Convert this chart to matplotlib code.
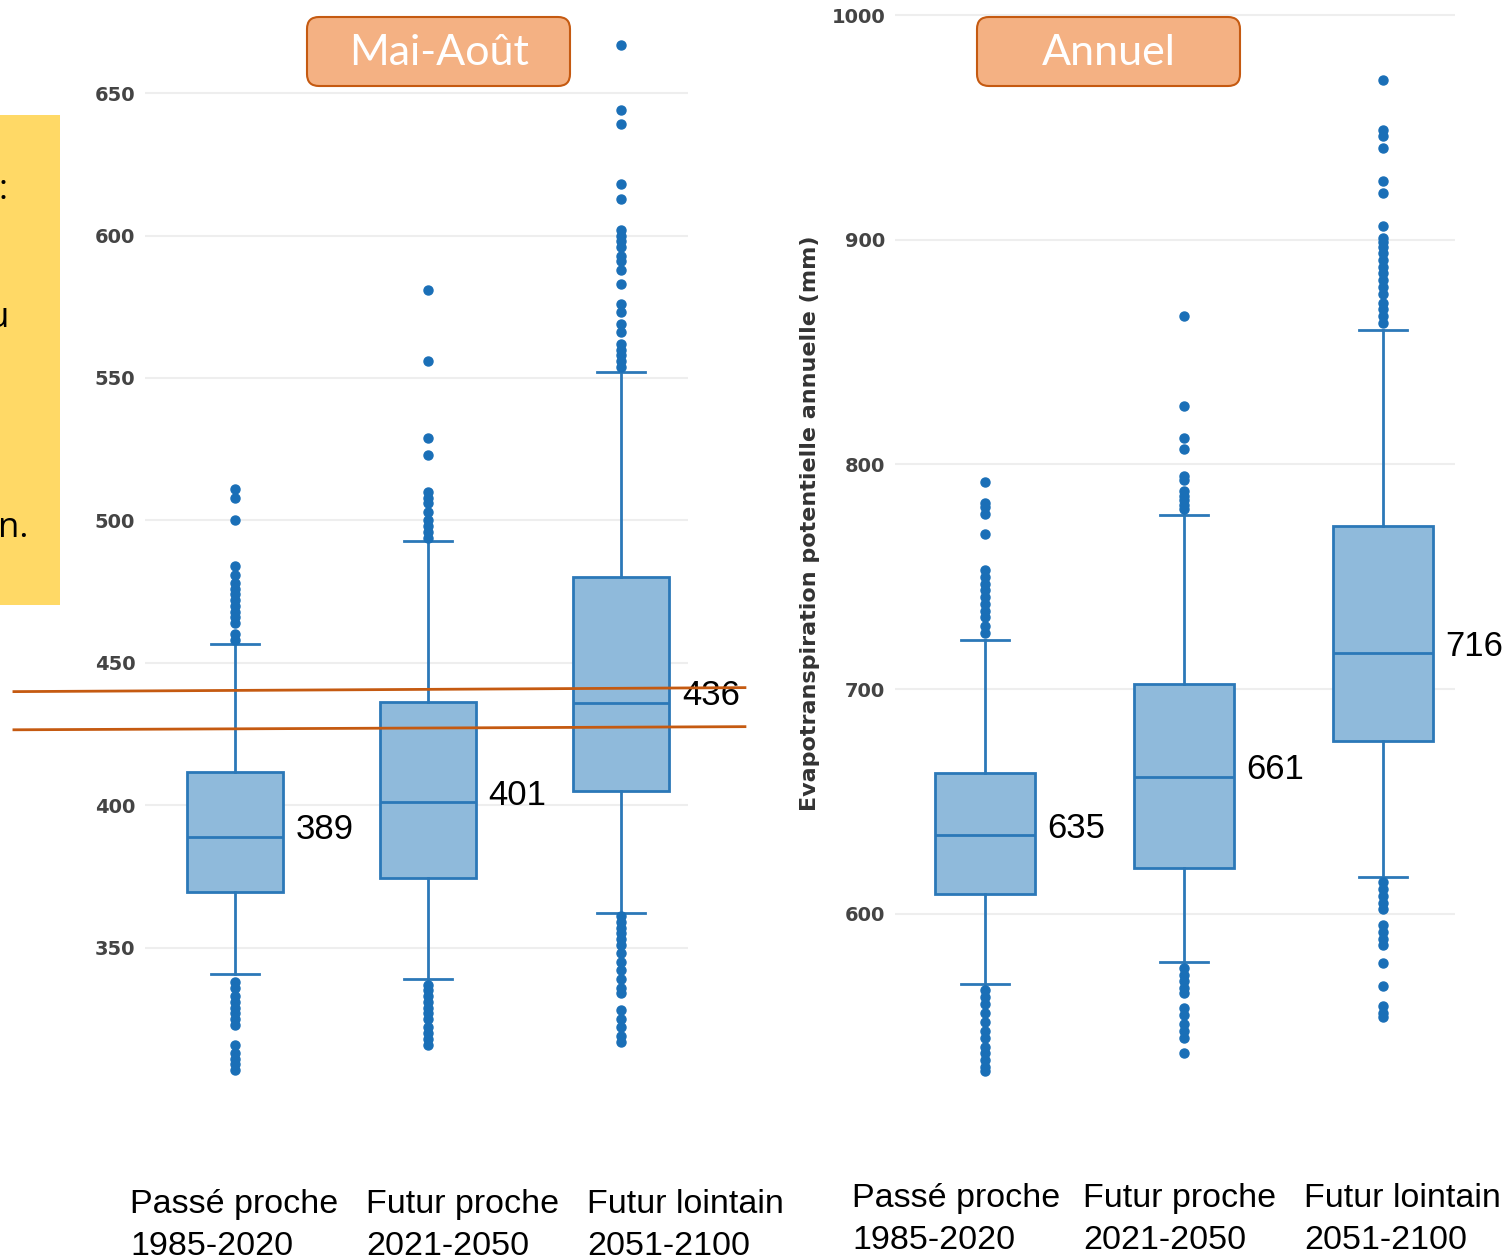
import matplotlib
matplotlib.use("Agg")
import matplotlib.pyplot as plt
from matplotlib.patches import FancyBboxPatch, Rectangle
from matplotlib.transforms import IdentityTransform

# --- data ---
periods = ["Passé proche\n1985-2020", "Futur proche\n2021-2050", "Futur lointain\n2051-2100"]

# Mai-Août
ma_med = [389, 401, 436]
ma_q1 = [369.6, 374.3, 405.1]
ma_q3 = [411.8, 436.1, 480.0]
ma_whislo = [340.8, 338.9, 362.2]
ma_whishi = [456.7, 492.9, 552.0]
ma_fliers = [
    [511, 508, 500, 484, 481, 478, 476, 474, 472, 470, 468, 466, 464, 460, 458,
     338, 336, 333, 331, 329, 327, 325, 323, 316, 313, 311, 309, 307],
    [581, 556, 529, 523, 510, 508, 506, 503, 500, 498, 496, 494,
     337, 335, 333, 331, 329, 327, 325, 322, 320, 318, 316],
    [667, 644, 639, 618, 613, 602, 600, 598, 596, 593, 591, 588, 583, 576, 573,
     569, 566, 562, 560, 558, 556, 554,
     361, 359, 357, 355, 353, 351, 348, 345, 342, 339, 336, 334, 328, 325, 322, 319, 317],
]

# Annuel
an_med = [635, 661, 716]
an_q1 = [608.9, 620.5, 677.0]
an_q3 = [662.7, 702.3, 772.6]
an_whislo = [568.9, 578.6, 616.5]
an_whishi = [721.9, 777.5, 859.8]
an_fliers = [
    [792, 783, 781, 778, 769, 753, 750, 747, 744, 741, 738, 735, 732, 728, 725,
     566, 563, 560, 556, 552, 548, 545, 541, 538, 535, 532, 530],
    [866, 826, 812, 807, 795, 793, 788, 786, 784, 782, 780,
     576, 573, 570, 567, 565, 558, 555, 551, 548, 545, 538],
    [971, 949, 946, 941, 926, 921, 906, 901, 899, 897, 894, 891, 888, 885, 882,
     879, 876, 872, 869, 866, 863,
     614, 611, 608, 605, 602, 595, 592, 589, 586, 578, 568, 559, 556, 554],
]

# two reference levels drawn across the Mai-Août panel
ref_x = [-1.145, 2.642]
ref_levels = [[439.9, 441.3], [426.5, 427.6]]

W, H = 1506, 1259
fig = plt.figure(figsize=(W / 100, H / 100), dpi=100)
fig.patch.set_facecolor("white")

BLUE = "#2B78B8"
FILL = "#8FBADB"
ORANGE = "#C55A11"


def px(x, y):
    # pixel (from top-left) -> figure fraction
    return x / W, 1 - y / H


def draw_panel(rect, med, q1, q3, lo, hi, fliers, ylim, yticks, xlim):
    ax = fig.add_axes(rect)
    stats = []
    for i in range(3):
        stats.append(dict(med=med[i], q1=q1[i], q3=q3[i], whislo=lo[i], whishi=hi[i],
                          fliers=fliers[i]))
    ax.bxp(stats, positions=[0, 1, 2], widths=0.5, capwidths=0.245, patch_artist=True,
           boxprops=dict(facecolor=FILL, edgecolor=BLUE, linewidth=2),
           medianprops=dict(color=BLUE, linewidth=2),
           whiskerprops=dict(color=BLUE, linewidth=2),
           capprops=dict(color=BLUE, linewidth=2),
           flierprops=dict(marker="o", markerfacecolor="#1A6FB7", markeredgecolor="#1A6FB7",
                           markersize=6.5))
    for i in range(3):
        ax.annotate(str(med[i]), xy=(i + 0.25, med[i]), xytext=(9, 5),
                    textcoords="offset points", ha="left", va="center",
                    fontsize=25, family="Liberation Sans", color="black")
    ax.set_xlim(*xlim)
    ax.set_ylim(*ylim)
    ax.set_yticks(yticks)
    ax.set_xticks([])
    ax.tick_params(axis="y", length=0, pad=7, labelsize=14, labelcolor="#444444")
    for lab in ax.get_yticklabels():
        lab.set_fontweight("bold")
    ax.grid(axis="y", color="#EEEEEE", linewidth=1.5)
    ax.set_axisbelow(True)
    for s in ax.spines.values():
        s.set_visible(False)
    ax.patch.set_alpha(0)
    return ax


ax1 = draw_panel([145 / W, 1 - 1083 / H, 543 / W, 1083 / H],
                 ma_med, ma_q1, ma_q3, ma_whislo, ma_whishi, ma_fliers,
                 (302.5, 682.7), [350, 400, 450, 500, 550, 600, 650], (-0.466, 2.347))
ax2 = draw_panel([895 / W, 1 - 1100 / H, 560 / W, 1100 / H],
                 an_med, an_q1, an_q3, an_whislo, an_whishi, an_fliers,
                 (517.2, 1006.7), [600, 700, 800, 900, 1000], (-0.452, 2.362))

for lv in ref_levels:
    ax1.plot(ref_x, lv, color=ORANGE, linewidth=2, clip_on=False, zorder=5)

fig.text(*px(810, 523), "Evapotranspiration potentielle annuelle (mm)", rotation=90,
         ha="center", va="center", fontsize=16, fontweight="bold", color="#333333")

# period labels under each panel
left_x = [130, 366, 587]
right_x = [852, 1083, 1304]
for lab, x in zip(periods, left_x):
    fig.text(*px(x, 1189), lab, ha="left", va="top", fontsize=24.5,
             family="Liberation Sans", linespacing=1.45)
for lab, x in zip(periods, right_x):
    fig.text(*px(x, 1183), lab, ha="left", va="top", fontsize=24.5,
             family="Liberation Sans", linespacing=1.45)

# title boxes
for title, x0 in [("Mai-Août", 307), ("Annuel", 977)]:
    box = FancyBboxPatch((x0, H - 86), 263, 69, boxstyle="round,pad=0,rounding_size=12",
                         transform=IdentityTransform(), facecolor="#F4B183",
                         edgecolor=ORANGE, linewidth=1.5, zorder=10)
    fig.patches.append(box)
    fig.text(*px(x0 + 132, 53), title, ha="center", va="center", fontsize=31,
             family="Lato", color="white", zorder=11)

# clipped yellow note on the left edge
fig.patches.append(Rectangle(px(0, 605), 60 / W, 490 / H, transform=fig.transFigure,
                             facecolor="#FFD966", edgecolor="none", zorder=1))
for txt, x, y in [(":", 8, 190), ("u", 9, 318), ("n.", 28, 528)]:
    fig.text(*px(x, y), txt, ha="right", va="center", fontsize=25,
             family="Open Sans", color="black", zorder=2)

fig.savefig("out.png", dpi=100)
